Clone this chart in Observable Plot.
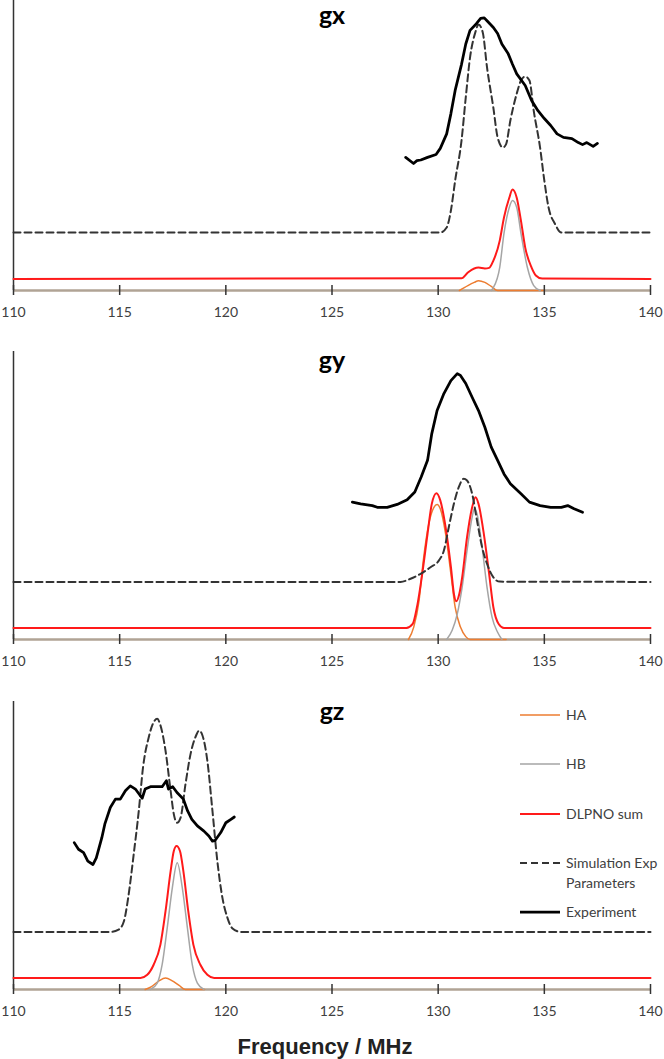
<!DOCTYPE html>
<html>
<head>
<meta charset="utf-8">
<script src="https://cdn.jsdelivr.net/npm/d3@7"></script>
<script src="https://cdn.jsdelivr.net/npm/@observablehq/plot@0.6"></script>
<style>
  html, body { margin: 0; padding: 0; background: #fff; }
  body { width: 664px; height: 1059px; overflow: hidden; position: relative; font-family: Lato, "Open Sans", sans-serif; }
  .panel { position: absolute; left: 0; }
  .legend-row { position: absolute; left: 520px; height: 0; }
  .legend-row svg { position: absolute; left: 0; top: -4px; }
  .legend-row span { position: absolute; left: 46px; top: -10px; font-size: 14px; color: #404040; white-space: nowrap; line-height: 20px; }
  #xlabel { position: absolute; top: 1034px; left: 0; width: 650px; text-align: center; font-family: "Liberation Sans", Arial, sans-serif; font-weight: bold; font-size: 22px; color: #222; }
</style>
</head>
<body>
<div id="p1" class="panel" style="top:0px"></div>
<div id="p2" class="panel" style="top:330px"></div>
<div id="p3" class="panel" style="top:680px"></div>
<div id="legend"></div>
<div id="xlabel"></div>
<script>
// ---------- data (frequency in MHz, intensity in arbitrary units 0-100) ----------
const xTicks = [110, 115, 120, 125, 130, 135, 140];
const panelTitles = ["gx", "gy", "gz"];
const legendLabels = ["HA", "HB", "DLPNO sum", "Simulation Exp", "Experiment"];
const legendSubLabel = "Parameters";
const xLabel = "Frequency / MHz";

// gx
const gxHA = [[131.0,0],[131.4,1.7],[131.7,2.8],[131.9,3.4],[132.2,2.8],[132.5,1.4],[132.8,0],[135,0]];
const gxHB = [[132.5,0],[132.6,1],[132.9,8],[133.1,19.7],[133.35,28.6],[133.5,31],[133.7,28.6],[133.9,19.7],[134.2,8],[134.5,1.7],[134.8,0]];
const gxSum = [[110,4],[131.1,4.2],[131.4,6.2],[131.7,7.6],[131.9,7.9],[132.2,7.6],[132.4,7.8],[132.6,10.3],[132.9,17.2],[133.1,25.2],[133.35,32],[133.5,34.8],[133.7,32],[133.9,24],[134.1,14.8],[134.4,7.9],[134.6,5.2],[134.9,4.1],[140,4]];
const gxSim = [[110,20],[130.1,20],[130.4,21.7],[130.6,27.6],[130.8,37.9],[131.1,51.7],[131.3,66.6],[131.5,80.3],[131.75,89],[131.9,91.7],[132.1,89],[132.3,77],[132.6,63],[132.8,52.8],[133.05,49.3],[133.2,50.5],[133.4,58.6],[133.7,67.9],[133.9,72.4],[134.1,73.8],[134.3,72.4],[134.5,62],[134.8,49.3],[135.0,37.9],[135.2,28.6],[135.5,23],[135.8,20],[140,20]];
const gxExp = [[128.47,45.9],[128.84,43.8],[129.0,44.8],[129.18,45],[129.5,45.9],[129.9,46.9],[130.1,49],[130.4,54],[130.6,61],[130.8,69],[131.1,78],[131.3,85],[131.5,89.7],[131.8,92],[132.0,93.8],[132.17,94],[132.3,93],[132.6,90.7],[132.8,88.6],[133.0,85],[133.3,81.6],[133.5,78],[133.7,74.7],[134.1,70.7],[134.4,65.5],[134.7,62],[135.0,59.3],[135.3,56.9],[135.6,54],[135.9,52.8],[136.3,52.4],[136.6,51],[136.8,50.3],[137.0,51],[137.3,49.7],[137.5,50.7]];

// gy
const gyHA = [[128.6,0],[128.85,4.3],[129.1,13.5],[129.3,27.4],[129.56,40.2],[129.8,45.9],[129.95,46.9],[130.1,45.4],[130.35,36.7],[130.6,22.8],[130.8,11.2],[131.05,4.3],[131.3,1],[131.5,0],[133.2,0]];
const gyHB = [[130.4,0],[130.66,3.2],[130.9,8.9],[131.13,18.2],[131.36,30.9],[131.6,42.5],[131.7,45.4],[131.83,43.6],[132.07,32],[132.3,18.2],[132.54,7.7],[132.8,2.5],[133.0,0]];
const gySum = [[110,4],[128.5,4],[128.8,5.4],[129.0,11.2],[129.25,22.8],[129.5,36.7],[129.7,47.1],[129.92,50.8],[130.1,48.3],[130.35,39],[130.6,25.2],[130.75,15.5],[130.85,13.3],[131.0,16],[131.13,21.6],[131.36,35.5],[131.6,45.9],[131.76,49.4],[131.9,47.1],[132.15,36.7],[132.4,22.8],[132.6,11.2],[132.85,5.4],[133.1,4],[140,4]];
const gySim = [[110,20],[128.23,20],[128.7,21.1],[129.17,22.8],[129.64,25.1],[130.03,27.4],[130.27,30.9],[130.5,39],[130.74,47.1],[130.97,52.9],[131.2,55.8],[131.36,55.2],[131.6,50.6],[131.83,41.3],[132.07,32],[132.3,26.3],[132.6,21.6],[132.9,20.1],[140,20]];
const gyExp = [[125.96,47.7],[126.35,47.1],[126.9,46.5],[127.13,45.9],[127.6,45.9],[128.07,46.9],[128.54,48.5],[128.9,51.2],[129.2,56.4],[129.5,62.2],[129.7,71.5],[129.95,79.5],[130.27,85.4],[130.6,89.9],[130.9,92.3],[131.05,91.7],[131.3,88.9],[131.6,84.1],[131.9,79.5],[132.2,73.7],[132.5,66.8],[132.8,62.2],[133.1,57.5],[133.4,54.1],[133.9,50.6],[134.3,47.7],[134.8,46.5],[135.3,45.9],[135.8,45.9],[136.1,46.5],[136.4,45.4],[136.8,44.2]];

// gz
const gzHA = [[116.2,0],[116.5,1],[116.85,3],[117.16,4],[117.48,3],[117.8,1.4],[118.1,0],[119,0]];
const gzHB = [[116.45,0],[116.77,2.2],[117.0,8.6],[117.24,21.4],[117.48,35.3],[117.71,44],[117.95,35.3],[118.19,21.4],[118.42,8.6],[118.66,2.2],[118.97,0]];
const gzSum = [[110,4],[115.98,4],[116.3,5.1],[116.6,8.6],[116.92,15.6],[117.16,27.2],[117.4,41.1],[117.55,48.1],[117.68,49.8],[117.84,48.1],[118.0,41.1],[118.23,27.2],[118.47,15.6],[118.8,8.6],[119.13,5.1],[119.45,4],[140,4]];
const gzSim = [[110,20],[114.56,20],[114.95,20.8],[115.2,23.7],[115.4,31.8],[115.66,46.9],[115.9,62],[116.1,77.1],[116.37,87.6],[116.6,92.8],[116.77,94],[116.9,92.2],[117.16,82.9],[117.4,69],[117.55,60.9],[117.7,57.9],[117.87,59.7],[118.1,71.3],[118.34,81.8],[118.6,88.2],[118.74,89.9],[118.9,88.2],[119.13,79.4],[119.37,62],[119.6,44.6],[119.84,31.8],[120.08,24.8],[120.3,21.3],[120.7,20],[140,20]];
const gzExp = [[112.86,51],[113.06,48.7],[113.3,47.5],[113.5,44.6],[113.74,43.4],[113.9,45.7],[114.16,52.7],[114.3,57.4],[114.56,63.2],[114.8,66.1],[115.03,66.1],[115.27,69],[115.5,70.7],[115.74,69.6],[116.06,66.4],[116.2,69.6],[116.45,70.4],[116.77,70.4],[117.0,70.4],[117.2,72.5],[117.3,69.6],[117.5,70.4],[117.7,68.4],[118.0,66.1],[118.2,62],[118.4,59.1],[118.66,56.8],[118.97,55],[119.2,53.3],[119.37,51.5],[119.5,51.8],[119.76,54.5],[120.0,57.9],[120.24,59.1],[120.4,59.9]];

// ---------- styles ----------
const S = {
  HA: {stroke: "#ed7d31", strokeWidth: 1.5},
  HB: {stroke: "#a5a5a5", strokeWidth: 1.5},
  Sum: {stroke: "#ff1a1a", strokeWidth: 2},
  Sim: {stroke: "#333333", strokeWidth: 2, strokeDasharray: "7,4"},
  Exp: {stroke: "#000000", strokeWidth: 2.75}
};

function panel(title, ha, hb, sum, sim, exp, opts) {
  const acc = {x: d => d[0], y: d => d[1]};
  return Plot.plot({
    width: 664,
    height: opts.height,
    marginLeft: 13,
    marginRight: 14,
    marginTop: opts.mt,
    marginBottom: opts.mb,
    x: {domain: [110, 140]},
    y: {domain: [0, 100], axis: null},
    style: {fontFamily: "Lato", fontSize: "14px", color: "#404040", background: "white", overflow: "visible"},
    marks: [
      Plot.ruleY([0], {stroke: "#b0a395", strokeWidth: 2.5}),
      Plot.ruleX([110], {stroke: "#333", strokeWidth: 1.5}),
      Plot.line(ha, {...acc, ...S.HA, curve: "monotone-x"}),
      Plot.line(hb, {...acc, ...S.HB, curve: "monotone-x"}),
      Plot.line(sum, {...acc, ...S.Sum, curve: "monotone-x"}),
      Plot.line(sim, {...acc, ...S.Sim, curve: "monotone-x"}),
      Plot.line(exp, {...acc, ...S.Exp, curve: "linear", strokeLinejoin: "round"}),
      Plot.axisX({ticks: xTicks, tickSize: 10, dy: -5, tickPadding: 12, stroke: "#333", strokeWidth: 1.5, label: null, tickFormat: d => String(d), fill: "#404040"}),
      Plot.text([title], {frameAnchor: "top", dy: opts.titleDy, text: d => d, fontSize: 25, fontWeight: "bold", fill: "#000", fontFamily: "Lato"})
    ]
  });
}

document.getElementById("p1").append(panel(panelTitles[0], gxHA, gxHB, gxSum, gxSim, gxExp, {height: 330, mt: 0, mb: 40, titleDy: 6}));
document.getElementById("p2").append(panel(panelTitles[1], gyHA, gyHB, gySum, gySim, gyExp, {height: 349, mt: 21, mb: 40, titleDy: 0}));
document.getElementById("p3").append(panel(panelTitles[2], gzHA, gzHB, gzSum, gzSim, gzExp, {height: 339, mt: 21, mb: 30, titleDy: 1}));

// ---------- legend ----------
const legendKeys = ["HA", "HB", "Sum", "Sim", "Exp"];
const legendTop = 715, legendStep = 49.3;
const legend = document.getElementById("legend");
legendLabels.forEach((lab, i) => {
  const st = S[legendKeys[i]];
  const row = document.createElement("div");
  row.className = "legend-row";
  row.style.top = (legendTop + i * legendStep) + "px";
  row.innerHTML = `<svg width="42" height="8"><line x1="0" x2="40" y1="4" y2="4" stroke="${st.stroke}" stroke-width="${st.strokeWidth}" ${st.strokeDasharray ? `stroke-dasharray="${st.strokeDasharray}"` : ""}/></svg><span>${lab}${legendKeys[i] === "Sim" ? "<br>" + legendSubLabel : ""}</span>`;
  legend.append(row);
});
document.getElementById("xlabel").textContent = xLabel;
</script>
</body>
</html>
